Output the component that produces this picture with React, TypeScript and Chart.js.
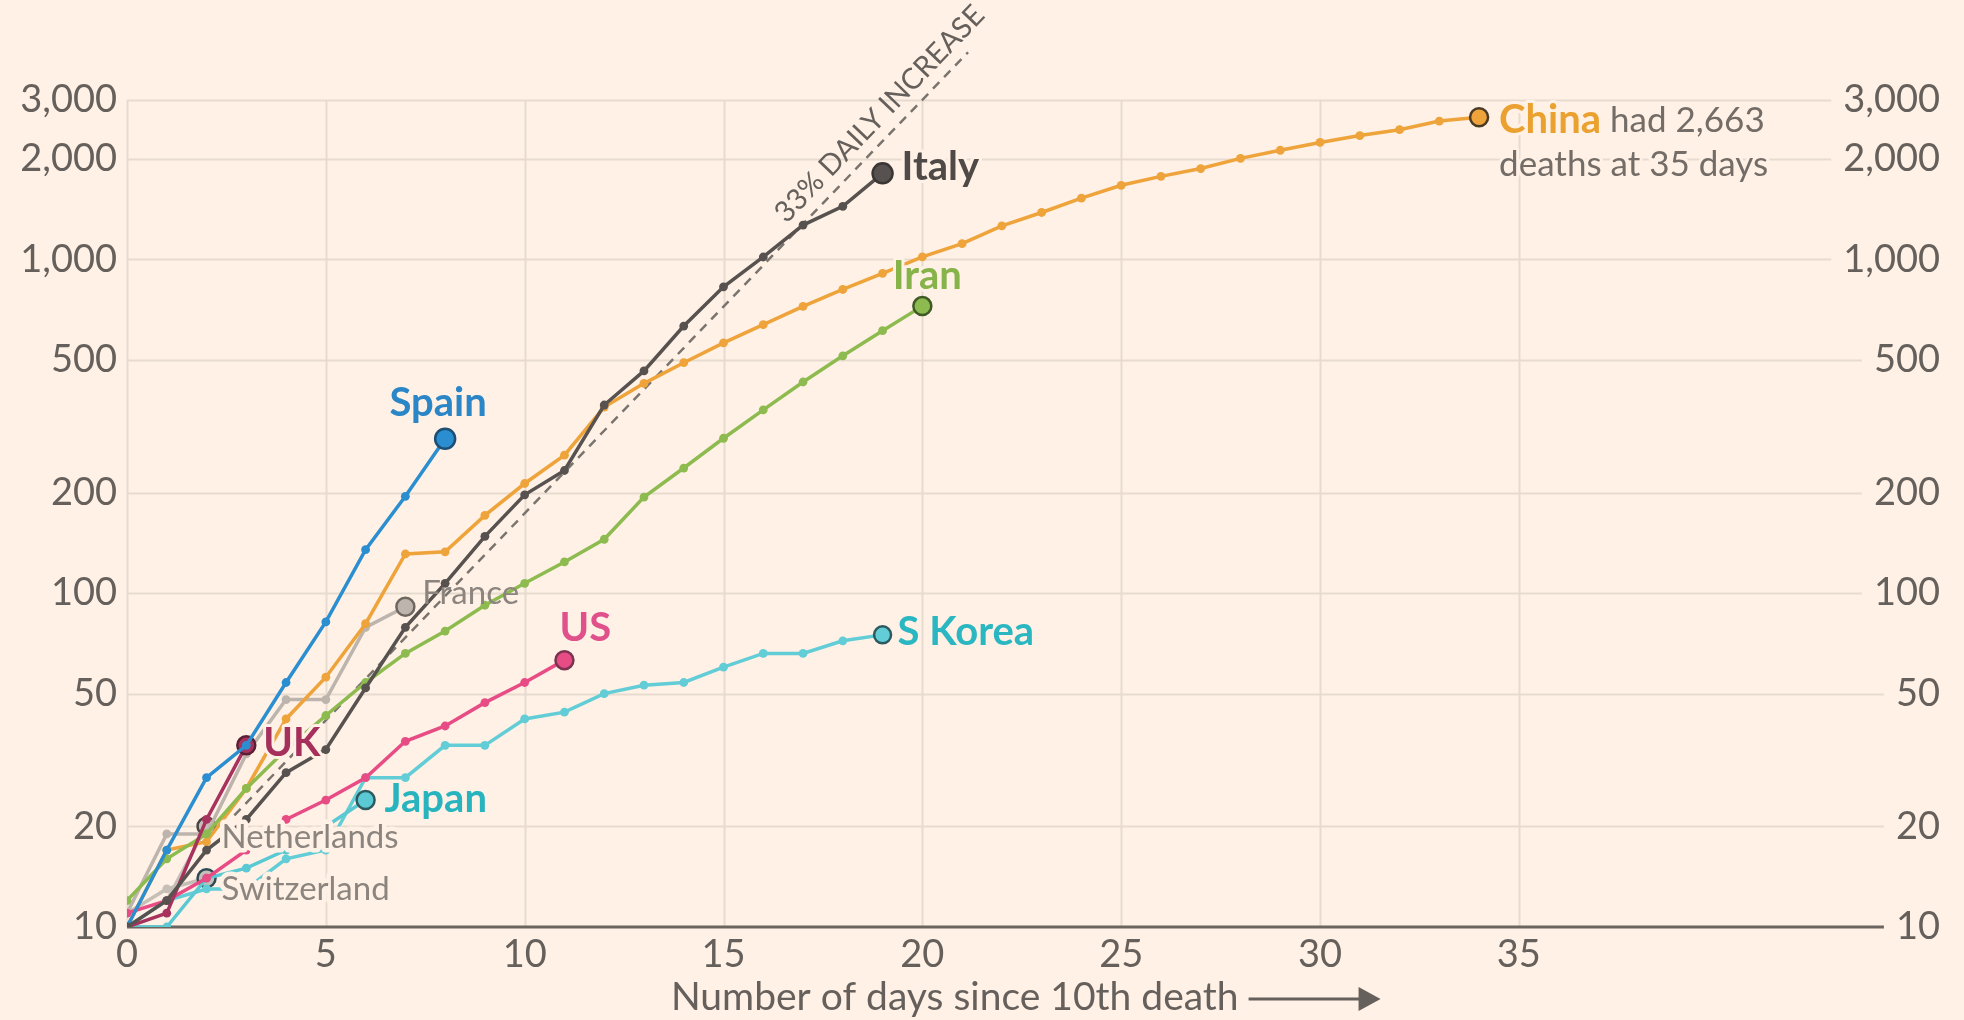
import React, { useEffect, useRef } from "react";
import { Chart, registerables } from "chart.js";

Chart.register(...registerables);

// ---------- data ----------
const yTickValues = [10, 20, 50, 100, 200, 500, 1000, 2000, 3000];
const xTickValues = [0, 5, 10, 15, 20, 25, 30, 35];

const chinaDeaths = [10, 17, 18, 26, 42, 56, 81, 131, 133, 171, 213, 259, 361, 425, 490, 562, 637, 723, 812, 908, 1017, 1114, 1260, 1381, 1524, 1666, 1772, 1870, 2006, 2121, 2239, 2348, 2445, 2595, 2663];
const italyDeaths = [10, 12, 17, 21, 29, 34, 52, 79, 107, 148, 197, 233, 366, 463, 631, 827, 1016, 1266, 1441, 1809];
const spainDeaths = [10, 17, 28, 35, 54, 82, 135, 195, 290];
const iranDeaths = [12, 16, 19, 26, 34, 43, 54, 66, 77, 92, 107, 124, 145, 194, 237, 291, 354, 429, 514, 611, 724];
const southKoreaDeaths = [10, 12, 13, 13, 16, 17, 28, 28, 35, 35, 42, 44, 50, 53, 54, 60, 66, 66, 72, 75];
const japanDeaths = [10, 10, 14, 15, 17, 20, 24];
const usDeaths = [11, 12, 14, 17, 21, 24, 28, 36, 40, 47, 54, 63];
const ukDeaths = [10, 11, 21, 35];
const franceDeaths = [11, 19, 19, 33, 48, 48, 79, 91];
const netherlandsDeaths = [10, 12, 20];
const switzerlandDeaths = [11, 13, 14];

// 33% daily increase guide: two end points
const referenceLineDays = [2.7, 21.15];
const referenceLineDeaths = [21.6, 4170];

// ---------- style ----------
const BG = "#fff1e5";
const TEXT = "#66605c";
const GRID = "#e7dbcf";
const AXIS = "#6b6560";
const FONT = "Lato, 'Open Sans', sans-serif";
const TICK_SIZE = 38;
const BOLD_SIZE = 40;
const REG_SIZE = 33;
const NOTE_SIZE = 35;

const fmt = (v: number) => Number(v).toLocaleString("en-US");

const toPoints = (values: number[], start = 0) =>
  values.map((v, i) => ({ x: start + i, y: v }));

type LabelSpec = {
  text: string;
  dx: number;
  dy: number;
  align: "left" | "center";
  bold: boolean;
  color: string;
  halo?: number;
  extra?: boolean;
};

function seriesDataset(
  values: number[],
  color: string,
  label: LabelSpec | null,
  opts: { start?: number; endRadius?: number; endBorder?: string } = {}
) {
  const start = opts.start ?? 0;
  const endR = opts.endRadius ?? 9;
  const endBorder = opts.endBorder ?? "#35302d";
  const last = values.length - 1;
  return {
    data: toPoints(values, start),
    borderColor: color,
    backgroundColor: color,
    borderWidth: 3.5,
    tension: 0,
    pointRadius: (c: any) => (c.dataIndex === last ? endR : 4.4),
    pointBorderWidth: (c: any) => (c.dataIndex === last ? 2.5 : 0),
    pointBorderColor: (c: any) => (c.dataIndex === last ? endBorder : color),
    pointBackgroundColor: color,
    labelSpec: label,
  } as any;
}

const datasets = [
  seriesDataset(italyDeaths, "#57524f", { text: "Italy", dx: 19, dy: -6, align: "left", bold: true, color: "#4f4a47" }, { endRadius: 10, endBorder: "#3a3634" }),
  seriesDataset(spainDeaths, "#2b8ed0", { text: "Spain", dx: -7, dy: -36, align: "center", bold: true, color: "#2a86c7" }, { endRadius: 10, endBorder: "#1d4f75" }),
  seriesDataset(ukDeaths, "#a8325e", { text: "UK", dx: 17, dy: -2, align: "left", bold: true, color: "#a6305c" }, { endRadius: 9, endBorder: "#5a1f35" }),
  seriesDataset(usDeaths, "#e84c85", { text: "US", dx: -5, dy: -32, align: "left", bold: true, color: "#e0508a" }, { endRadius: 9, endBorder: "#7a3350" }),
  seriesDataset(japanDeaths, "#5ac9d3", { text: "Japan", dx: 19, dy: -1, align: "left", bold: true, color: "#27b4be" }, { endRadius: 9, endBorder: "#2c5a60" }),
  seriesDataset(southKoreaDeaths, "#62cdd6", { text: "S Korea", dx: 15, dy: -3, align: "left", bold: true, color: "#2ab7c1" }, { endRadius: 8.5, endBorder: "#2c5a60" }),
  seriesDataset(iranDeaths, "#8dbb4f", { text: "Iran", dx: 5, dy: -30, align: "center", bold: true, color: "#86b34a" }, { endRadius: 9, endBorder: "#3f5a25" }),
  seriesDataset(chinaDeaths, "#eea33b", { text: "China", dx: 20, dy: 3, align: "left", bold: true, color: "#eba12f", extra: true }, { endRadius: 9, endBorder: "#4a3b26" }),
  seriesDataset(franceDeaths, "#bdb5ad", { text: "France", dx: 17, dy: -13, align: "left", bold: false, color: "#8c857f", halo: 0 }, { endRadius: 9, endBorder: "#6e6760" }),
  seriesDataset(netherlandsDeaths, "#c6bfb8", { text: "Netherlands", dx: 15, dy: 11, align: "left", bold: false, color: "#8c857f", halo: 9 }, { endRadius: 9, endBorder: "#4a4542" }),
  seriesDataset(switzerlandDeaths, "#c6bfb8", { text: "Switzerland", dx: 15, dy: 11, align: "left", bold: false, color: "#8c857f", halo: 9 }, { endRadius: 9, endBorder: "#2f4a55" }),
  {
    data: referenceLineDays.map((d, i) => ({ x: d, y: referenceLineDeaths[i] })),
    borderColor: "#7a746f",
    borderWidth: 2.5,
    borderDash: [9, 7],
    pointRadius: 0,
    clip: false,
    refLine: true,
  } as any,
];

// ---------- plugins ----------
const gridPlugin = {
  id: "ftGrid",
  beforeDatasetsDraw(chart: any) {
    const { ctx, chartArea, scales } = chart;
    const xs = scales.x;
    const ys = scales.y;
    const labelRight = scales.yRight.right;
    ctx.save();
    ctx.font = `${TICK_SIZE}px ${FONT}`;
    ctx.strokeStyle = GRID;
    ctx.lineWidth = 2;
    xTickValues.forEach((v) => {
      const px = Math.round(xs.getPixelForValue(v)) + 0.5;
      ctx.beginPath();
      ctx.moveTo(px, chartArea.top);
      ctx.lineTo(px, chartArea.bottom);
      ctx.stroke();
    });
    yTickValues.forEach((v, i) => {
      if (i === 0) return;
      const py = Math.round(ys.getPixelForValue(v)) + 0.5;
      const w = ctx.measureText(fmt(v)).width;
      ctx.beginPath();
      ctx.moveTo(chartArea.left, py);
      ctx.lineTo(labelRight - w - 12, py);
      ctx.stroke();
    });
    const base = yTickValues[0];
    const py = ys.getPixelForValue(base);
    const w0 = ctx.measureText(fmt(base)).width;
    ctx.strokeStyle = AXIS;
    ctx.lineWidth = 3;
    ctx.beginPath();
    ctx.moveTo(chartArea.left, py);
    ctx.lineTo(labelRight - w0 - 12, py);
    ctx.stroke();
    ctx.restore();
  },
};

function drawLabel(ctx: CanvasRenderingContext2D, text: string, x: number, y: number, font: string, color: string, align: CanvasTextAlign, halo = 6) {
  ctx.font = font;
  ctx.textAlign = align;
  ctx.textBaseline = "middle";
  if (halo > 0) {
    ctx.lineJoin = "round";
    ctx.strokeStyle = BG;
    ctx.lineWidth = halo;
    ctx.strokeText(text, x, y);
  }
  ctx.fillStyle = color;
  ctx.fillText(text, x, y);
}

const labelPlugin = {
  id: "ftLabels",
  afterDatasetsDraw(chart: any) {
    const { ctx, scales } = chart;
    ctx.save();
    chart.data.datasets.forEach((ds: any, i: number) => {
      const meta = chart.getDatasetMeta(i);
      if (ds.refLine) {
        const p1 = meta.data[0];
        const p2 = meta.data[1];
        const dx = p2.x - p1.x;
        const dy = p2.y - p1.y;
        const len = Math.hypot(dx, dy);
        const ang = Math.atan2(dy, dx);
        const t = 0.9;
        const nx = dy / len;
        const ny = -dx / len;
        const cx = p1.x + dx * t + nx * 21;
        const cy = p1.y + dy * t + ny * 21;
        ctx.save();
        ctx.translate(cx, cy);
        ctx.rotate(ang);
        ctx.font = `29px ${FONT}`;
        ctx.textAlign = "center";
        ctx.textBaseline = "middle";
        ctx.fillStyle = TEXT;
        ctx.fillText("33% DAILY INCREASE", 0, 0);
        ctx.restore();
        return;
      }
      const spec: LabelSpec | null = ds.labelSpec;
      if (!spec) return;
      const pt = meta.data[meta.data.length - 1];
      const font = `${spec.bold ? "bold " : ""}${spec.bold ? BOLD_SIZE : REG_SIZE}px ${FONT}`;
      const x = pt.x + spec.dx;
      const y = pt.y + spec.dy;
      drawLabel(ctx, spec.text, x, y, font, spec.color, spec.align, spec.halo ?? 6);
      if (spec.extra) {
        ctx.font = font;
        const w = ctx.measureText(spec.text).width;
        ctx.font = `${NOTE_SIZE}px ${FONT}`;
        const sp = ctx.measureText(" ").width;
        const total = chinaDeaths[chinaDeaths.length - 1];
        const days = chinaDeaths.length;
        drawLabel(ctx, `had ${fmt(total)}`, x + w + sp, y, `${NOTE_SIZE}px ${FONT}`, "#746d67", "left");
        drawLabel(ctx, `deaths at ${days} days`, x, y + 44, `${NOTE_SIZE}px ${FONT}`, "#746d67", "left");
      }
    });

    // x axis title with arrow
    const xs = scales.x;
    const title = "Number of days since 10th death";
    ctx.font = `39px ${FONT}`;
    const tw = ctx.measureText(title).width;
    const gap = 10;
    const arrowLen = 132;
    const centerX = xs.getPixelForValue(22.6);
    const startX = centerX - (tw + gap + arrowLen) / 2;
    const ty = 997;
    ctx.fillStyle = TEXT;
    ctx.textAlign = "left";
    ctx.textBaseline = "middle";
    ctx.fillText(title, startX, ty);
    const ax0 = startX + tw + gap;
    const ax1 = ax0 + arrowLen;
    ctx.strokeStyle = TEXT;
    ctx.lineWidth = 3;
    ctx.beginPath();
    ctx.moveTo(ax0, ty + 2);
    ctx.lineTo(ax1 - 18, ty + 2);
    ctx.stroke();
    ctx.beginPath();
    ctx.moveTo(ax1, ty + 2);
    ctx.lineTo(ax1 - 22, ty + 2 - 12);
    ctx.lineTo(ax1 - 22, ty + 2 + 12);
    ctx.closePath();
    ctx.fill();
    ctx.restore();
  },
};

const yAxisBase = (position: "left" | "right", width: number) => ({
  type: "logarithmic" as const,
  position,
  min: yTickValues[0],
  max: yTickValues[yTickValues.length - 1],
  afterBuildTicks: (s: any) => {
    s.ticks = yTickValues.map((v) => ({ value: v }));
  },
  afterFit: (s: any) => {
    s.width = width;
  },
  grid: { display: false, drawTicks: false },
  border: { display: false },
  ticks: {
    font: { family: FONT, size: TICK_SIZE },
    color: TEXT,
    padding: 10,
    autoSkip: false,
    crossAlign: position === "right" ? ("far" as const) : ("near" as const),
    callback: (v: any) => fmt(v),
  },
});

export default function App() {
  const ref = useRef<HTMLCanvasElement>(null);
  useEffect(() => {
    document.body.style.margin = "0";
    document.body.style.background = BG;
    const chart = new Chart(ref.current as HTMLCanvasElement, {
      type: "line",
      data: { datasets },
      options: {
        animation: false,
        responsive: false,
        devicePixelRatio: 1,
        layout: { padding: { top: 100, right: 24, bottom: 0, left: 0 } },
        plugins: { legend: { display: false }, tooltip: { enabled: false } },
        scales: {
          x: {
            type: "linear",
            min: 0,
            max: 42.95,
            afterBuildTicks: (s: any) => {
              s.ticks = xTickValues.map((v) => ({ value: v }));
            },
            afterFit: (s: any) => {
              s.height = 93;
            },
            grid: { display: false, drawTicks: false },
            border: { display: false },
            ticks: {
              font: { family: FONT, size: TICK_SIZE },
              color: TEXT,
              padding: 5,
              autoSkip: false,
              maxRotation: 0,
              callback: (v: any) => String(v),
            },
          },
          y: yAxisBase("left", 127),
          yRight: yAxisBase("right", 105),
        },
      } as any,
      plugins: [gridPlugin, labelPlugin],
    });
    return () => chart.destroy();
  }, []);
  return (
    <div style={{ width: 1964, height: 1020, background: BG }}>
      <canvas ref={ref} width={1964} height={1020} style={{ display: "block", width: 1964, height: 1020 }} />
    </div>
  );
}
